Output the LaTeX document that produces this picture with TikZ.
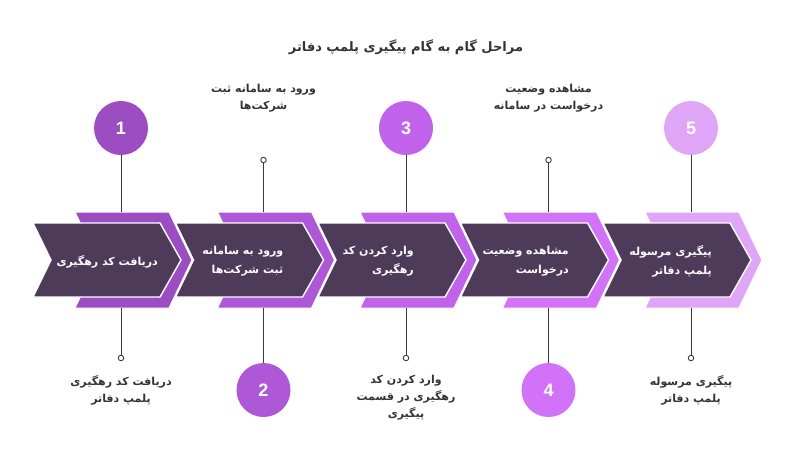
\documentclass[tikz,border=0pt]{standalone}
\usepackage{fontspec}
\setmainfont{Liberation Sans}
\newfontfamily\arabicfont[Script=Arabic]{DejaVu Sans}
\TeXXeTstate=1
\newcommand{\fa}[1]{\beginR #1\endR}
\definecolor{cA}{HTML}{9B4DC1}
\definecolor{cB}{HTML}{AE58D8}
\definecolor{cC}{HTML}{C062EA}
\definecolor{cD}{HTML}{D172F8}
\definecolor{cE}{HTML}{DFA6F7}
\definecolor{darkbox}{HTML}{4E3B59}
\definecolor{linecol}{HTML}{3C3C3C}
\definecolor{txtcol}{HTML}{333333}
\tikzset{
  backchev/.style={fill=#1, draw=white, line width=1pt},
  frontchev/.style={fill=darkbox, draw=white, line width=1.4pt},
  bigdot/.style={circle, fill=#1, minimum size=54pt, inner sep=0pt, text=white, font=\fontsize{18}{18}\selectfont\bfseries},
  smalldot/.style={circle, draw=linecol, fill=white, line width=0.9pt, minimum size=5.5pt, inner sep=0pt},
  conn/.style={draw=linecol, line width=1pt},
  lbl/.style={text=txtcol, align=center, font=\arabicfont\bfseries\fontsize{11}{17}\selectfont, inner sep=0pt},
  boxlbl/.style={text=white, align=right, font=\arabicfont\bfseries\fontsize{11}{19}\selectfont, inner sep=0pt},
}
\begin{document}
\begin{tikzpicture}[x=1pt,y=-1pt]
\useasboundingbox (0,0) rectangle (800,448);
\fill[white] (0,0) rectangle (800,448);

% title
\node[text=txtcol, font=\arabicfont\bfseries\fontsize{13}{16}\selectfont] (title) at (406,47) {\fa{مراحل گام به گام پیگیری پلمپ دفاتر}};

% chevrons
\foreach \i/\x/\c in {1/121/cA,2/263.5/cB,3/406/cC,4/548.5/cD,5/691/cE}{
  \filldraw[backchev=\c] (\x-46,212) -- (\x+48,212) -- (\x+71,260) -- (\x+48,308) -- (\x-46,308) -- (\x-23,260) -- cycle;
  \filldraw[frontchev] (\x-88,223) -- (\x+39,223) -- (\x+60,260) -- (\x+39,297) -- (\x-88,297) -- (\x-70,260) -- cycle;
  \coordinate (t\i) at (\x,212);
  \coordinate (b\i) at (\x,308);
}

% numbered circles
\node[bigdot=cA] (n1) at (121,128) {1};
\node[bigdot=cB] (n2) at (263.5,390) {2};
\node[bigdot=cC] (n3) at (406,128) {3};
\node[bigdot=cD] (n4) at (548.5,390) {4};
\node[bigdot=cE] (n5) at (691,128) {5};

% small end dots
\node[smalldot] (d1) at (121,358) {};
\node[smalldot] (d2) at (263.5,160) {};
\node[smalldot] (d3) at (406,358) {};
\node[smalldot] (d4) at (548.5,160) {};
\node[smalldot] (d5) at (691,358) {};

% connectors
\draw[conn] (n1) -- (t1);
\draw[conn] (b1) -- (d1);
\draw[conn] (d2) -- (t2);
\draw[conn] (b2) -- (n2);
\draw[conn] (n3) -- (t3);
\draw[conn] (b3) -- (d3);
\draw[conn] (d4) -- (t4);
\draw[conn] (b4) -- (n4);
\draw[conn] (n5) -- (t5);
\draw[conn] (b5) -- (d5);

% texts in chevrons
\node[boxlbl, anchor=east] (s1) at (158,262) {\fa{دریافت کد رهگیری}};
\node[boxlbl, anchor=east] (s2) at (283.5,261.5) {\fa{ورود به سامانه}\\\fa{ثبت شرکت‌ها}};
\node[boxlbl, anchor=east] (s3) at (414,261.5) {\fa{وارد کردن کد}\\\fa{رهگیری}};
\node[boxlbl, anchor=east] (s4) at (569,261.5) {\fa{مشاهده وضعیت}\\\fa{درخواست}};
\node[boxlbl, anchor=east] (s5) at (712,261.5) {\fa{پیگیری مرسوله}\\\fa{پلمپ دفاتر}};

% outer labels
\node[lbl] (l2) at (263.5,98.5) {\fa{ورود به سامانه ثبت}\\\fa{شرکت‌ها}};
\node[lbl] (l4) at (548.5,98.5) {\fa{مشاهده وضعیت}\\\fa{درخواست در سامانه}};
\node[lbl] (l1) at (121,390.5) {\fa{دریافت کد رهگیری}\\\fa{پلمپ دفاتر}};
\node[lbl] (l3) at (406,398) {\fa{وارد کردن کد}\\\fa{رهگیری در قسمت}\\\fa{پیگیری}};
\node[lbl] (l5) at (691,390.5) {\fa{پیگیری مرسوله}\\\fa{پلمپ دفاتر}};
\end{tikzpicture}
\end{document}
